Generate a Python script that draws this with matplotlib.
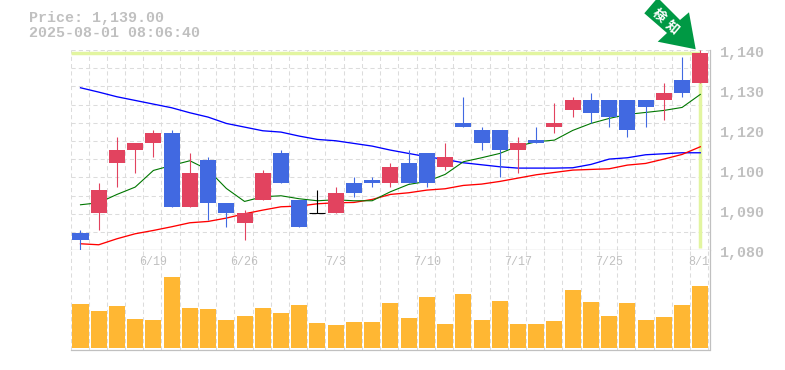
import matplotlib
matplotlib.use("Agg")
import matplotlib.pyplot as plt
import numpy as np
from matplotlib.patches import Polygon

# ---- data ----
opens = [1085, 1091, 1106, 1110, 1112, 1115, 1093, 1107, 1094, 1088, 1095, 1109,
         1095, 1091, 1091, 1100, 1101, 1100, 1106, 1109, 1105, 1118, 1116, 1116,
         1110, 1113, 1117, 1122, 1125, 1125, 1125, 1125, 1125, 1131, 1130]
closes = [1083, 1098, 1110, 1112, 1115, 1093, 1103, 1094, 1091, 1091, 1103, 1100,
          1087, 1091, 1097, 1097, 1100, 1105, 1100, 1100, 1108, 1117, 1112, 1110,
          1112, 1112, 1118, 1125, 1121, 1120, 1116, 1123, 1127, 1127, 1139]
highs = [1086, 1100, 1114, 1112, 1116, 1116, 1109, 1108, 1094, 1092, 1104, 1110,
         1095, 1098, 1099, 1102, 1102, 1106, 1110, 1109, 1112, 1126, 1117, 1116,
         1114, 1117, 1124, 1126, 1127, 1125, 1125, 1125, 1130, 1138, 1140]
lows = [1080, 1086, 1099, 1103, 1108, 1093, 1093, 1089, 1087, 1083, 1095, 1100,
        1087, 1091, 1091, 1096, 1099, 1099, 1100, 1099, 1104, 1117, 1110, 1102,
        1103, 1112, 1115, 1120, 1118, 1117, 1114, 1117, 1119, 1126, 1130]

ma_short = [1093.6, 1094.2, 1096.7, 1098.9, 1103.9, 1105.4, 1106.8, 1104.1, 1098.5,
            1094.6, 1096.0, 1096.3, 1095.4, 1094.8, 1095.1, 1094.8, 1094.8, 1097.5,
            1099.7, 1100.6, 1102.7, 1106.5, 1107.7, 1109.0, 1111.2, 1112.5, 1113.0,
            1115.9, 1118.0, 1119.5, 1120.7, 1121.3, 1121.9, 1122.8, 1126.7]
ma_mid = [1081.9, 1081.6, 1083.4, 1084.9, 1085.9, 1087.0, 1088.2, 1088.6, 1089.6,
          1090.9, 1092.0, 1093.0, 1093.2, 1093.9, 1094.2, 1094.3, 1095.2, 1096.7,
          1097.2, 1098.0, 1098.4, 1099.4, 1099.8, 1100.6, 1101.6, 1102.6, 1103.3,
          1104.0, 1104.2, 1104.4, 1105.5, 1106.0, 1107.3, 1108.7, 1111.0]
ma_long = [1128.7, 1127.4, 1126.0, 1124.9, 1123.8, 1122.7, 1121.2, 1119.9, 1118.0,
           1116.9, 1115.8, 1115.4, 1114.2, 1113.2, 1112.8, 1112.0, 1111.2, 1110.0,
           1109.0, 1108.0, 1107.2, 1106.2, 1105.6, 1105.0, 1104.6, 1104.6, 1104.6,
           1104.7, 1105.7, 1107.3, 1107.7, 1108.6, 1108.9, 1109.2, 1109.2]
volumes = [44, 37, 42, 29, 28, 71, 40, 39, 28, 32, 40, 35, 43, 25, 23, 26, 26, 45,
           30, 51, 24, 54, 28, 47, 24, 24, 27, 58, 46, 32, 45, 28, 31, 43, 62]

date_idx = [4, 9, 14, 19, 24, 29, 34]
date_labels = ["6/19", "6/26", "7/3", "7/10", "7/17", "7/25", "8/1"]
price_labels = ["1,140", "1,130", "1,120", "1,100", "1,090", "1,080"]
last_price = 1139

W, H = 785, 370
RED = "#e2435f"
BLUE = "#4169e1"
GREY = "#c0c0c0"
GRID = "#dcdcdc"
HILITE = "#e2f5a0"
MONO = "Liberation Mono"
DASH = (0, (4, 3))


def axes_at(x0, y0, x1, y1):
    return fig.add_axes([x0 / W, 1 - y1 / H, (x1 - x0) / W, (y1 - y0) / H])


fig = plt.figure(figsize=(W / 100, H / 100), dpi=100)
ax = axes_at(70.5, 50.1, 709.5, 250.1)
ax2 = axes_at(70.5, 250.1, 709.5, 349.5)

n = len(opens)
x = np.arange(n)
xlim = (-0.537, 34.505)
grid_x = np.concatenate(([-0.548], x + 0.44))

# ---- price panel ----
ax.set_xlim(xlim)
ax.set_ylim(1080, 1140)
ax.set_yticks(np.linspace(1080, 1140, 12))
ax.set_xticks(grid_x)
ax.grid(True, color=GRID, linestyle=DASH, linewidth=0.75)
ax.set_axisbelow(True)
ax.tick_params(length=0, labelbottom=False, labelleft=False)

ax.hlines(last_price, xlim[0], 34, color=HILITE, linewidth=2.5, zorder=1)
ax.vlines(34, 1080.5, last_price, color=HILITE, linewidth=2.5, zorder=1)

ax.plot(x, ma_long, color="#0000ff", linewidth=0.95, zorder=2)
ax.plot(x, ma_mid, color="#ff0000", linewidth=0.95, zorder=2)
ax.plot(x, ma_short, color="#007700", linewidth=0.8, zorder=2)

for i in range(n):
    if closes[i] > opens[i]:
        c = RED
    elif closes[i] < opens[i]:
        c = BLUE
    else:
        c = "black"
    ax.vlines(i, lows[i], highs[i], color=c, linewidth=0.8, zorder=3)
    if closes[i] == opens[i]:
        ax.hlines(opens[i], i - 0.44, i + 0.44, color=c, linewidth=0.8, zorder=3)
    else:
        ax.bar(i, abs(closes[i] - opens[i]), bottom=min(opens[i], closes[i]),
               width=0.88, color=c, linewidth=0, zorder=3)

for s in ["top", "left"]:
    ax.spines[s].set_visible(False)
for s in ["bottom", "right"]:
    ax.spines[s].set_color(GREY)
    ax.spines[s].set_linewidth(0.9)

# price labels sit on an even spacing of their own
for lab, yp in zip(price_labels, np.linspace(53.5, 253.5, len(price_labels))):
    fig.text(720 / W, 1 - yp / H, lab, family=MONO, fontsize=10.8, color=GREY,
             fontweight="bold", ha="left", va="center")

# ---- volume panel ----
ax2.set_xlim(xlim)
ax2.set_ylim(-1.5, 97.9)
ax2.set_xticks(grid_x)
ax2.set_yticks([])
ax2.xaxis.grid(True, color=GRID, linestyle=DASH, linewidth=0.75)
ax2.set_axisbelow(True)
ax2.tick_params(length=0, labelbottom=False)
ax2.bar(x, volumes, width=0.88, color="#ffb733", linewidth=0, zorder=3)
for s in ["top", "left"]:
    ax2.spines[s].set_visible(False)
for s in ["bottom", "right"]:
    ax2.spines[s].set_color(GREY)
    ax2.spines[s].set_linewidth(0.9)
for i, lab in zip(date_idx, date_labels):
    t = ax2.text(i, 1 - 11.5 / 99, lab, transform=ax2.get_xaxis_transform(), family=MONO,
                 fontsize=8.4, color=GREY, ha="center", va="center", zorder=4)
    if i == date_idx[-1]:
        t.set_x(i - 0.1)

# ---- header ----
fig.text(29 / W, 1 - 18 / H, "Price: 1,139.00", family=MONO, fontsize=10.8, color=GREY,
         fontweight="bold", va="center")
fig.text(29 / W, 1 - 33 / H, "2025-08-01 08:06:40", family=MONO, fontsize=10.8, color=GREY,
         fontweight="bold", va="center")

# ---- green arrow ----
arrow_pts = np.array([[655.7, 0], [660, 0], [680, 20], [689, 12.3], [695.7, 49.3],
                      [657.7, 41.7], [667, 33], [644.3, 13.3]])
fig.add_artist(Polygon(arrow_pts / [W, H] * [1, -1] + [0, 1], closed=True, color="#009944",
                       transform=fig.transFigure, linewidth=0, zorder=5))
for ch, cx, cy in zip("検知", [659, 672], [15.7, 26.7]):
    fig.text(cx / W, 1 - cy / H, ch, family=["Noto Sans CJK JP", "DejaVu Sans"],
             fontsize=9.5, fontweight="bold", color="white", rotation=-40, ha="center",
             va="center", zorder=6)

fig.savefig("out.png", dpi=100)
